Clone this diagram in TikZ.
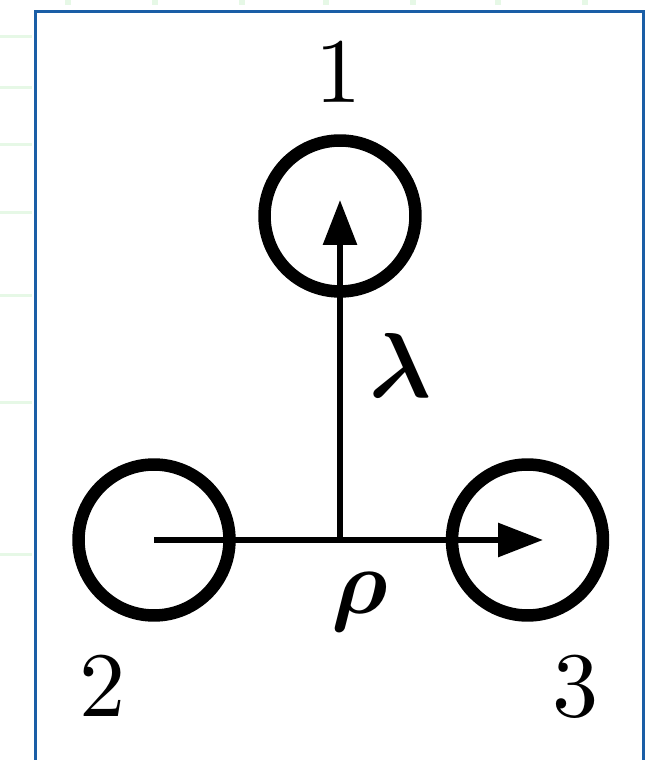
\documentclass[tikz,border=0pt]{standalone}
\usepackage{bm}
\usetikzlibrary{arrows.meta,calc}
\definecolor{ink}{HTML}{000000}
\definecolor{rule}{HTML}{1A5EA6}
\definecolor{ghost}{HTML}{E6F8E6}
\tikzset{
  site/.style={circle,draw=ink,line width=0.25cm,inner sep=0pt,minimum size=3.02cm},
  tag/.style={inner sep=0pt,scale=5.25,text=ink},
  vec/.style={-{Triangle[length=0.9cm,width=0.66cm]},line width=0.12cm,draw=ink},
  border/.style={draw=rule,line width=0.06cm},
  trace/.style={draw=ghost,line width=0.06cm}
}

\begin{document}
\begin{tikzpicture}[x=0.02cm,y=0.02cm]
    \useasboundingbox (0,0) rectangle (647,760);

    % faint marks outside the frame
    \foreach \y in {37,88,145,213,296,403,555}
      \draw[trace] (0,760-\y) -- (32,760-\y);
    \foreach \x in {68,155,242,326,413,498,585}
      \draw[trace,line width=0.12cm] (\x,760) -- (\x,755);

    \draw[border] (35.5,-10) -- (35.5,748.5) -- (643.5,748.5) -- (643.5,-10);

    \node[site] (n1) at (340,544) {};
    \node[site] (n2) at (154,220) {};
    \node[site] (n3) at (527.5,220) {};

    \node[tag] (l1) at (339,688) {1};
    \node[tag] (l2) at (103,74) {2};
    \node[tag] (l3) at (576,73) {3};
    \node[tag] (lam) at (400,395) {$\bm{\lambda}$};
    \node[tag] (rho) at (360,158) {$\bm{\rho}$};

    \coordinate (mid) at (n1 |- n2);
    \coordinate (tipr) at ($(n3.center)+(15.5,0)$);
    \coordinate (tipu) at ($(n1.center)+(0,16)$);

    \draw[vec] (n2.center) -- (tipr);
    \draw[vec] (mid) -- (tipu);
  \end{tikzpicture}
\end{document}
